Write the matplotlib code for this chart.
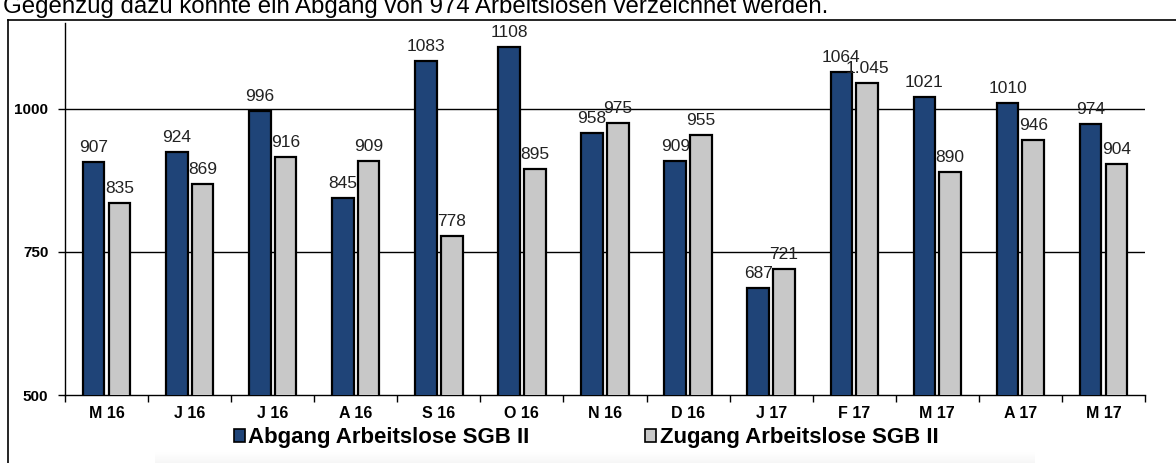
import numpy as np
import matplotlib
matplotlib.use("Agg")
import matplotlib.pyplot as plt
from matplotlib.lines import Line2D
from matplotlib.patches import Patch

plt.rcParams['font.family'] = ['Liberation Sans', 'DejaVu Sans']

# Monate Mai 2016 bis Mai 2017
months = ['M 16', 'J 16', 'J 16', 'A 16', 'S 16', 'O 16', 'N 16',
          'D 16', 'J 17', 'F 17', 'M 17', 'A 17', 'M 17']
abgang = [907, 924, 996, 845, 1083, 1108, 958, 909, 687, 1064, 1021, 1010, 974]
zugang = [835, 869, 916, 909, 778, 895, 975, 955, 721, 1045, 890, 946, 904]
zugang_labels = ['835', '869', '916', '909', '778', '895', '975', '955',
                 '721', '1.045', '890', '946', '904']
y_ticks = [500, 750, 1000]

blue = '#1F4478'
grey = '#C8C8C8'

fig = plt.figure(figsize=(11.76, 4.63), dpi=100)
ax = fig.add_axes([65 / 1176, 1 - 395 / 463, 1080 / 1176, 372 / 463])

x = np.arange(len(months))
w = 0.26
off = 0.155
ax.bar(x - off, abgang, w, color=blue, edgecolor='black', linewidth=1.6, zorder=3)
ax.bar(x + off, zugang, w, color=grey, edgecolor='black', linewidth=1.6, zorder=3)

for xi, v in zip(x, abgang):
    ax.annotate(str(v), (xi - off, v), xytext=(0, 5), textcoords='offset points',
                ha='center', va='bottom', fontsize=12.5, color='#222222', zorder=4)
for xi, v, t in zip(x, zugang, zugang_labels):
    ax.annotate(t, (xi + off, v), xytext=(0, 5), textcoords='offset points',
                ha='center', va='bottom', fontsize=12.5, color='#222222', zorder=4)

ax.set_ylim(500, 1150)
ax.set_xlim(-0.5, len(months) - 0.5)
ax.set_yticks(y_ticks)
ax.set_yticklabels([str(t) for t in y_ticks], fontweight='bold', fontsize=11)
for t in y_ticks[1:]:
    ax.axhline(t, color='black', linewidth=1, zorder=1)

# Kategorie-Trenner als Ticks, Beschriftung in der Mitte
ax.set_xticks(np.arange(len(months) + 1) - 0.5)
ax.set_xticklabels([])
ax.set_xticks(x, minor=True)
ax.set_xticklabels(months, minor=True, fontweight='bold', fontsize=11.5)
ax.tick_params(axis='x', which='minor', length=0, pad=8)
ax.tick_params(axis='x', which='major', length=5, width=1)
ax.tick_params(axis='y', length=5, width=1, pad=7)

for s in ['top', 'right']:
    ax.spines[s].set_visible(False)
for s in ['left', 'bottom']:
    ax.spines[s].set_linewidth(1)

handles = [Patch(facecolor=blue, edgecolor='black', linewidth=1.2),
           Patch(facecolor=grey, edgecolor='black', linewidth=1.2)]
fig.legend(handles, ['Abgang Arbeitslose SGB II', 'Zugang Arbeitslose SGB II'],
           loc='center', bbox_to_anchor=(586 / 1176, 1 - 438 / 463), ncol=2,
           frameon=False, prop={'weight': 'bold', 'size': 16},
           handlelength=0.5, handleheight=0.5, handletextpad=0.15, columnspacing=5.2)

# leichter Schatten unter der Legende
sh = fig.add_axes([155 / 1176, 0, 880 / 1176, 11 / 463])
sh.imshow(np.linspace(0, 1, 20).reshape(-1, 1), cmap='Greys', vmin=0, vmax=14,
          aspect='auto', extent=(0, 1, 0, 1))
sh.axis('off')

# Rahmen und abgeschnittener Text darüber
fig.add_artist(Line2D([8 / 1176, 1], [1 - 20 / 463, 1 - 20 / 463], color='black', linewidth=1.2))
fig.add_artist(Line2D([8 / 1176, 8 / 1176], [1 - 20 / 463, 0], color='black', linewidth=1.2))
fig.text(3 / 1176, 1 - 13 / 463,
         'Gegenzug dazu konnte ein Abgang von 974 Arbeitslosen verzeichnet werden.',
         fontsize=17.3, va='baseline', ha='left')

fig.savefig('out.png', dpi=100)
